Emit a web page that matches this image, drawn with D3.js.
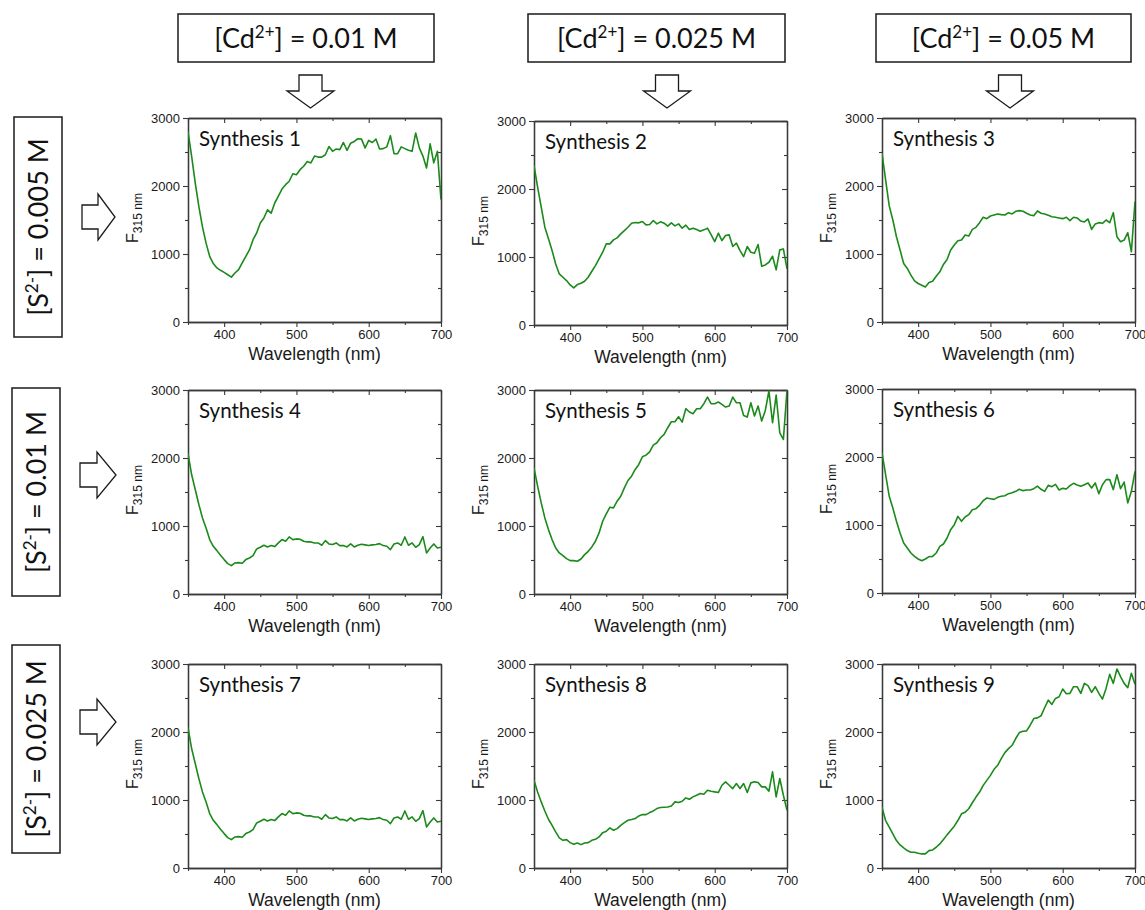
<!DOCTYPE html>
<html>
<head>
<meta charset="utf-8">
<script src="https://cdn.jsdelivr.net/npm/d3@7"></script>
<style>
  body { margin: 0; background: #fff; }
  svg { display: block; }
</style>
</head>
<body>
<svg id="fig" width="1145" height="910"></svg>
<script>
// ---- data -------------------------------------------------------------
const wavelengths = [
  350, 355, 360, 365, 370, 375, 380, 385, 390, 395,
  400, 405, 410, 415, 420, 425, 430, 435, 440, 445,
  450, 455, 460, 465, 470, 475, 480, 485, 490, 495,
  500, 505, 510, 515, 520, 525, 530, 535, 540, 545,
  550, 555, 560, 565, 570, 575, 580, 585, 590, 595,
  600, 605, 610, 615, 620, 625, 630, 635, 640, 645,
  650, 655, 660, 665, 670, 675, 680, 685, 690, 695,
  700
];

const synthesis1 = [
  2800, 2440, 2045, 1700, 1400, 1160, 965, 860, 795, 760,
  730, 695, 660, 720, 770, 870, 965, 1060, 1210, 1310,
  1455, 1530, 1650, 1600, 1750, 1850, 1955, 2020, 2070, 2180,
  2165, 2240, 2290, 2360, 2340, 2440, 2425, 2425, 2460, 2580,
  2510, 2545, 2535, 2640, 2525, 2630, 2655, 2695, 2690, 2560,
  2670, 2640, 2690, 2545, 2550, 2575, 2740, 2475, 2475, 2575,
  2550, 2525, 2510, 2780, 2560, 2440, 2265, 2620, 2340, 2510,
  1800
];
const synthesis2 = [
  2347, 2027, 1733, 1438, 1267, 1095, 898, 751, 702, 653,
  589, 545, 594, 614, 643, 702, 790, 874, 972, 1070,
  1193, 1193, 1252, 1281, 1340, 1389, 1438, 1497, 1507, 1502,
  1522, 1473, 1478, 1537, 1487, 1517, 1497, 1453, 1502, 1458,
  1487, 1424, 1468, 1404, 1424, 1404, 1380, 1399, 1424, 1330,
  1227, 1350, 1242, 1316, 1325, 1154, 1203, 1095, 1006, 1154,
  1070, 1055, 1183, 864, 884, 923, 1011, 810, 1105, 1119,
  825
];
const synthesis3 = [
  2484, 2090, 1707, 1500, 1254, 1058, 861, 787, 689, 605,
  566, 541, 516, 580, 600, 674, 738, 846, 920, 1058,
  1131, 1195, 1205, 1279, 1264, 1362, 1392, 1461, 1540, 1520,
  1559, 1574, 1589, 1579, 1574, 1608, 1589, 1628, 1638, 1628,
  1599, 1574, 1564, 1633, 1599, 1589, 1569, 1549, 1540, 1530,
  1520, 1540, 1490, 1540, 1530, 1485, 1471, 1515, 1362, 1441,
  1461, 1451, 1500, 1461, 1608, 1254, 1180, 1205, 1313, 1033,
  1771
];
const synthesis4 = [
  2067, 1757, 1537, 1316, 1119, 972, 800, 702, 638, 569,
  506, 447, 417, 457, 461, 452, 506, 530, 565, 663,
  687, 717, 692, 712, 697, 751, 800, 776, 839, 800,
  810, 805, 776, 766, 766, 751, 751, 717, 785, 736,
  727, 751, 712, 712, 692, 736, 692, 717, 731, 722,
  712, 722, 727, 741, 712, 702, 653, 736, 751, 717,
  839, 717, 751, 687, 727, 844, 604, 677, 736, 677,
  687
];
const synthesis5 = [
  1856, 1586, 1340, 1119, 947, 800, 677, 604, 565, 520,
  491, 491, 481, 515, 579, 628, 692, 776, 898, 1070,
  1178, 1276, 1267, 1365, 1438, 1561, 1669, 1733, 1831, 1905,
  2018, 2042, 2091, 2190, 2224, 2298, 2347, 2445, 2533, 2533,
  2607, 2528, 2725, 2676, 2651, 2725, 2725, 2798, 2896, 2798,
  2798, 2823, 2788, 2749, 2764, 2896, 2813, 2813, 2626, 2602,
  2813, 2617, 2764, 2543, 2700, 2985, 2518, 2926, 2371, 2273,
  2995
];
const synthesis6 = [
  2059, 1740, 1422, 1250, 1054, 882, 735, 662, 588, 539,
  500, 475, 500, 534, 539, 588, 686, 721, 809, 931,
  1005, 1127, 1054, 1118, 1152, 1225, 1240, 1289, 1358, 1397,
  1387, 1377, 1407, 1422, 1431, 1461, 1475, 1495, 1525, 1505,
  1515, 1515, 1534, 1573, 1525, 1495, 1583, 1564, 1598, 1515,
  1539, 1529, 1578, 1613, 1588, 1569, 1593, 1618, 1544, 1618,
  1461, 1593, 1667, 1667, 1520, 1740, 1534, 1632, 1324, 1495,
  1789
];
const synthesis7 = [
  2067, 1757, 1537, 1316, 1119, 972, 800, 702, 638, 569,
  506, 447, 417, 457, 461, 452, 506, 530, 565, 663,
  687, 717, 692, 712, 697, 751, 800, 776, 839, 800,
  810, 805, 776, 766, 766, 751, 751, 717, 785, 736,
  727, 751, 712, 712, 692, 736, 692, 717, 731, 722,
  712, 722, 727, 741, 712, 702, 653, 736, 751, 717,
  839, 717, 751, 687, 727, 844, 604, 677, 736, 677,
  687
];
const synthesis8 = [
  1291, 1119, 972, 839, 717, 628, 530, 442, 407, 417,
  373, 349, 368, 344, 368, 373, 407, 422, 457, 520,
  540, 589, 555, 579, 628, 668, 702, 712, 727, 766,
  785, 785, 815, 839, 874, 889, 893, 898, 913, 972,
  962, 982, 1031, 1011, 1046, 1070, 1095, 1085, 1144, 1129,
  1119, 1110, 1217, 1267, 1217, 1168, 1242, 1168, 1242, 1110,
  1252, 1267, 1257, 1193, 1193, 1129, 1414, 1046, 1316, 1070,
  849
];
const synthesis9 = [
  895, 698, 600, 502, 403, 339, 295, 256, 231, 231,
  216, 207, 207, 256, 266, 305, 354, 418, 487, 551,
  615, 698, 797, 821, 871, 959, 1043, 1117, 1215, 1289,
  1362, 1451, 1510, 1608, 1697, 1756, 1805, 1904, 1992, 2012,
  2017, 2100, 2198, 2208, 2238, 2356, 2469, 2405, 2494, 2518,
  2632, 2563, 2568, 2666, 2666, 2568, 2715, 2681, 2583, 2666,
  2568, 2484, 2641, 2848, 2715, 2927, 2814, 2715, 2651, 2863,
  2701
];

const panelTitles = ["Synthesis 1", "Synthesis 2", "Synthesis 3",
                     "Synthesis 4", "Synthesis 5", "Synthesis 6",
                     "Synthesis 7", "Synthesis 8", "Synthesis 9"];
const panelSeries = [synthesis1, synthesis2, synthesis3,
                     synthesis4, synthesis5, synthesis6,
                     synthesis7, synthesis8, synthesis9];

// column headers: [Cd2+] concentration; row headers: [S2-] concentration
const cdLevels = ["0.01", "0.025", "0.05"];
const sLevels = ["0.005", "0.01", "0.025"];

const xMajorTicks = [400, 500, 600, 700];
const xMinorTicks = [350, 450, 550, 650];
const yMajorTicks = [0, 1000, 2000, 3000];
const yMinorTicks = [500, 1500, 2500];

// ---- layout ------------------------------------------------------------
const colLeft = [188, 534, 882];
const rowTop = [[118, 121, 118], [390, 390, 389], [664, 664, 664]];
const plotW = 253, plotH = 204;

const headerBoxes = [
  { x: 178, w: 256, arrow: 310.5 },
  { x: 528, w: 257, arrow: 667 },
  { x: 876, w: 255, arrow: 1010 }
];
const rowBoxes = [
  { x: 14, y: 117, w: 48, h: 220, arrowY: 217 },
  { x: 12, y: 388, w: 48, h: 208, arrowY: 475 },
  { x: 12, y: 645, w: 48, h: 208, arrowY: 722 }
];

const LABEL_FONT = "Lato, 'Open Sans', sans-serif";
const AXIS_FONT = "'Liberation Sans', Arial, sans-serif";
const LINE_COLOR = "#1b8a1b";
const FRAME_COLOR = "#3a3a3a";

const svg = d3.select("#fig");

// ---- column headers with down arrows -----------------------------------
headerBoxes.forEach((b, i) => {
  svg.append("rect")
    .attr("x", b.x).attr("y", 14).attr("width", b.w).attr("height", 48)
    .attr("fill", "#fff").attr("stroke", "#1a1a1a").attr("stroke-width", 1.5);

  const t = svg.append("text")
    .attr("x", b.x + b.w / 2).attr("y", 48)
    .attr("text-anchor", "middle")
    .attr("font-family", LABEL_FONT).attr("font-size", 27)
    .attr("fill", "#111");
  t.append("tspan").text("[Cd");
  t.append("tspan").attr("dy", -10).attr("font-size", 17).text("2+");
  t.append("tspan").attr("dy", 10).text(`] = ${cdLevels[i]} M`);

  const cx = b.arrow;
  const arrow = d3.path();
  arrow.moveTo(cx - 11.5, 75);
  arrow.lineTo(cx + 11.5, 75);
  arrow.lineTo(cx + 11.5, 91);
  arrow.lineTo(cx + 23.5, 91);
  arrow.lineTo(cx, 108);
  arrow.lineTo(cx - 23.5, 91);
  arrow.lineTo(cx - 11.5, 91);
  arrow.closePath();
  svg.append("path").attr("d", arrow.toString())
    .attr("fill", "#fff").attr("stroke", "#1a1a1a").attr("stroke-width", 1.3);
});

// ---- row headers with right arrows -------------------------------------
rowBoxes.forEach((b, i) => {
  svg.append("rect")
    .attr("x", b.x).attr("y", b.y).attr("width", b.w).attr("height", b.h)
    .attr("fill", "#fff").attr("stroke", "#1a1a1a").attr("stroke-width", 1.5);

  const cx = b.x + b.w / 2, cy = b.y + b.h / 2;
  const t = svg.append("text")
    .attr("transform", `translate(${cx + 10},${cy}) rotate(-90)`)
    .attr("text-anchor", "middle")
    .attr("font-family", LABEL_FONT).attr("font-size", 27)
    .attr("fill", "#111");
  t.append("tspan").text("[S");
  t.append("tspan").attr("dy", -10).attr("font-size", 17).text("2-");
  t.append("tspan").attr("dy", 10).text(`] = ${sLevels[i]} M`);

  const ay = b.arrowY;
  const x0 = i === 0 ? 82 : 80, x1 = i === 0 ? 98 : 97, x2 = i === 0 ? 115 : 116;
  const arrow = d3.path();
  arrow.moveTo(x0, ay - 12);
  arrow.lineTo(x1, ay - 12);
  arrow.lineTo(x1, ay - 23);
  arrow.lineTo(x2, ay);
  arrow.lineTo(x1, ay + 23);
  arrow.lineTo(x1, ay + 12);
  arrow.lineTo(x0, ay + 12);
  arrow.closePath();
  svg.append("path").attr("d", arrow.toString())
    .attr("fill", "#fff").attr("stroke", "#1a1a1a").attr("stroke-width", 1.3);
});

// ---- spectra panels ----------------------------------------------------
const x = d3.scaleLinear().domain([350, 700]).range([0, plotW]);
const y = d3.scaleLinear().domain([0, 3000]).range([plotH, 0]);

function styleAxis(sel) {
  sel.selectAll("path.domain").attr("stroke", FRAME_COLOR).attr("stroke-width", 1.3);
  sel.selectAll(".tick line").attr("stroke", FRAME_COLOR).attr("stroke-width", 1.1);
  sel.selectAll(".tick text")
    .attr("font-family", AXIS_FONT).attr("font-size", 13).attr("fill", "#1a1a1a");
}

panelSeries.forEach((series, i) => {
  const r = Math.floor(i / 3), c = i % 3;
  const g = svg.append("g")
    .attr("transform", `translate(${colLeft[c]},${rowTop[r][c]})`);

  const clipId = `clip-${i}`;
  g.append("clipPath").attr("id", clipId)
    .append("rect").attr("x", 0).attr("y", -1).attr("width", plotW).attr("height", plotH + 2);

  // minor ticks (all four sides)
  g.append("g").attr("transform", `translate(0,${plotH})`)
    .call(d3.axisBottom(x).tickValues(xMinorTicks).tickSize(3).tickSizeOuter(0).tickFormat(""))
    .call(styleAxis);
  g.append("g")
    .call(d3.axisTop(x).tickValues(xMinorTicks).tickSize(-3).tickSizeOuter(0).tickFormat(""))
    .call(styleAxis);
  g.append("g")
    .call(d3.axisLeft(y).tickValues(yMinorTicks).tickSize(3).tickSizeOuter(0).tickFormat(""))
    .call(styleAxis);
  g.append("g").attr("transform", `translate(${plotW},0)`)
    .call(d3.axisRight(y).tickValues(yMinorTicks).tickSize(-3).tickSizeOuter(0).tickFormat(""))
    .call(styleAxis);

  // major ticks: labelled bottom/left, mirrored inward on top/right
  g.append("g").attr("transform", `translate(0,${plotH})`)
    .call(d3.axisBottom(x).tickValues(xMajorTicks).tickSize(5).tickPadding(3).tickSizeOuter(0)
      .tickFormat(d3.format("d")))
    .call(styleAxis);
  g.append("g")
    .call(d3.axisTop(x).tickValues(xMajorTicks).tickSize(-5).tickSizeOuter(0).tickFormat(""))
    .call(styleAxis);
  g.append("g")
    .call(d3.axisLeft(y).tickValues(yMajorTicks).tickSize(5).tickPadding(3).tickSizeOuter(0)
      .tickFormat(d3.format("d")))
    .call(styleAxis);
  g.append("g").attr("transform", `translate(${plotW},0)`)
    .call(d3.axisRight(y).tickValues(yMajorTicks).tickSize(-5).tickSizeOuter(0).tickFormat(""))
    .call(styleAxis);

  // spectrum
  const line = d3.line()
    .x((d, k) => x(wavelengths[k]))
    .y(d => y(d));
  g.append("path")
    .datum(series)
    .attr("clip-path", `url(#${clipId})`)
    .attr("d", line)
    .attr("fill", "none")
    .attr("stroke", LINE_COLOR)
    .attr("stroke-width", 1.6)
    .attr("stroke-linejoin", "round");

  // panel title
  g.append("text")
    .attr("x", 11).attr("y", 28)
    .attr("font-family", LABEL_FONT).attr("font-size", 20.5)
    .attr("fill", "#111")
    .text(panelTitles[i]);

  // x axis title
  g.append("text")
    .attr("x", plotW / 2).attr("y", plotH + 38)
    .attr("text-anchor", "middle")
    .attr("font-family", AXIS_FONT).attr("font-size", 17.5)
    .attr("fill", "#1a1a1a")
    .text("Wavelength (nm)");

  // y axis title: F with subscript "315 nm"
  const yt = g.append("text")
    .attr("transform", `translate(-50,${plotH / 2 - 2}) rotate(-90)`)
    .attr("text-anchor", "middle")
    .attr("font-family", AXIS_FONT).attr("font-size", 16)
    .attr("fill", "#1a1a1a");
  yt.append("tspan").text("F");
  yt.append("tspan").attr("dy", 4).attr("font-size", 12).text("315 nm");
});
</script>
</body>
</html>
